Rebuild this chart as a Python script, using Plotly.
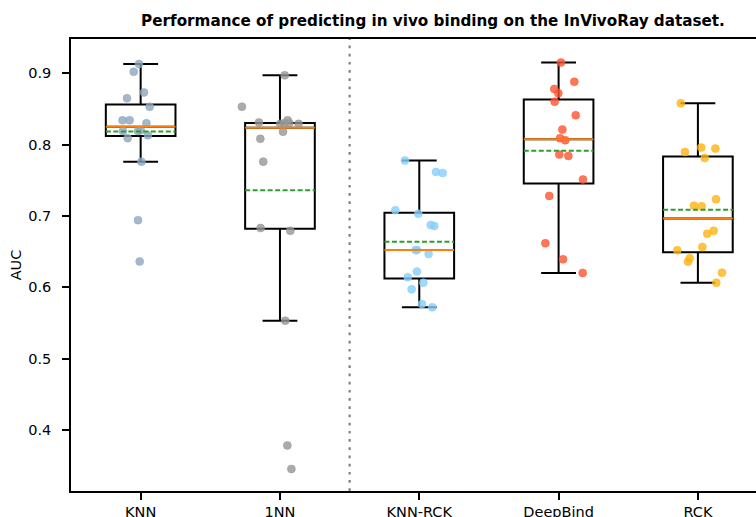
import numpy as np
import plotly.graph_objects as go

categories = ["KNN", "1NN", "KNN-RCK", "DeepBind", "RCK"]

knn_auc = [0.913, 0.902, 0.873, 0.865, 0.853, 0.834, 0.834, 0.830, 0.819, 0.819,
           0.820, 0.813, 0.809, 0.776, 0.694, 0.636]
knn_jitter = [-0.012, -0.05, 0.024, -0.098, 0.065, -0.13, -0.079, 0.041, -0.127, -0.019,
              0.0, 0.052, -0.093, 0.005, -0.019, -0.007]

nn1_auc = [0.897, 0.853, 0.831, 0.834, 0.829, 0.830, 0.829, 0.830, 0.818, 0.808,
           0.776, 0.683, 0.679, 0.553, 0.378, 0.345]
nn1_jitter = [0.034, -0.273, -0.151, 0.055, 0.002, 0.067, 0.134, 0.03, 0.022, -0.141,
              -0.12, -0.139, 0.074, 0.038, 0.053, 0.082]

knnrck_auc = [0.7775, 0.7616, 0.760, 0.708, 0.703, 0.6872, 0.6858, 0.652, 0.652, 0.6466,
              0.622, 0.614, 0.6063, 0.597, 0.5764, 0.5718]
knnrck_jitter = [-0.103, 0.12, 0.168, -0.172, -0.007, 0.082, 0.108, -0.026, -0.017, 0.067,
                 -0.017, -0.083, 0.029, -0.055, 0.019, 0.093]

deepbind_auc = [0.915, 0.888, 0.878, 0.872, 0.860, 0.841, 0.821, 0.809, 0.806, 0.786,
                0.784, 0.751, 0.728, 0.6616, 0.639, 0.620]
deepbind_jitter = [0.017, 0.113, -0.031, -0.002, -0.028, 0.123, 0.027, 0.01, 0.048, 0.005,
                   0.07, 0.175, -0.067, -0.095, 0.032, 0.173]

rck_auc = [0.858, 0.7957, 0.7943, 0.7896, 0.781, 0.7233, 0.7143, 0.7135, 0.679, 0.675,
           0.6564, 0.6518, 0.6405, 0.6358, 0.6204, 0.6063]
rck_jitter = [-0.123, 0.024, 0.125, -0.093, 0.049, 0.13, -0.028, 0.027, 0.113, 0.067,
              0.032, -0.148, -0.059, -0.071, 0.173, 0.132]

point_colors = ["rgba(140,168,190,0.8)", "rgba(150,150,150,0.8)", "rgba(135,206,250,0.8)",
                "rgba(255,85,50,0.8)", "rgba(255,180,20,0.8)"]

groups = [knn_auc, nn1_auc, knnrck_auc, deepbind_auc, rck_auc]
jitters = [knn_jitter, nn1_jitter, knnrck_jitter, deepbind_jitter, rck_jitter]
positions = list(range(len(categories)))
box_width = 0.5

fig = go.Figure()

# jittered points
for pos, vals, jit, col in zip(positions, groups, jitters, point_colors):
    fig.add_trace(go.Scatter(
        x=[pos + j for j in jit], y=vals, mode="markers",
        marker=dict(size=8, color=col, line=dict(width=0.6, color=col)),
        showlegend=False, hoverinfo="y"))

# box statistics (matplotlib style: linear percentiles, 1.5 IQR whiskers)
q1s, meds, q3s, los, his, means = [], [], [], [], [], []
for vals in groups:
    a = np.array(vals)
    q1, med, q3 = np.percentile(a, [25, 50, 75])
    iqr = q3 - q1
    lo = a[a >= q1 - 1.5 * iqr].min()
    hi = a[a <= q3 + 1.5 * iqr].max()
    q1s.append(q1); meds.append(med); q3s.append(q3)
    los.append(lo); his.append(hi); means.append(a.mean())

fig.add_trace(go.Box(
    x=positions, q1=q1s, median=meds, q3=q3s, lowerfence=los, upperfence=his,
    width=box_width, whiskerwidth=0.5, boxpoints=False,
    line=dict(color="black", width=2), fillcolor="rgba(0,0,0,0)",
    showlegend=False, hoverinfo="skip"))

# median (orange) and mean (green dashed) lines
mx, my, ax_, ay = [], [], [], []
for pos, med, mean in zip(positions, meds, means):
    mx += [pos - box_width / 2, pos + box_width / 2, None]
    my += [med, med, None]
    ax_ += [pos - box_width / 2, pos + box_width / 2, None]
    ay += [mean, mean, None]
fig.add_trace(go.Scatter(x=mx, y=my, mode="lines", line=dict(color="#ff7f0e", width=2),
                         showlegend=False, hoverinfo="skip"))
fig.add_trace(go.Scatter(x=ax_, y=ay, mode="lines",
                         line=dict(color="#2ca02c", width=2, dash="5px,2.5px"),
                         showlegend=False, hoverinfo="skip"))

# separator
fig.add_shape(type="line", xref="x", yref="paper", x0=1.5, x1=1.5, y0=0, y1=1,
              line=dict(color="#808080", width=2.2, dash="2.7px,5.5px"))

font = "DejaVu Sans, Arial, sans-serif"
fig.update_layout(
    width=756, height=517,
    margin=dict(l=71, r=0, t=39, b=26, autoexpand=False),
    paper_bgcolor="white", plot_bgcolor="white",
    font=dict(family=font, size=14.5, color="black"),
    title=dict(text="<b>Performance of predicting in vivo binding on the InVivoRay dataset.</b>",
               x=433 / 756, xanchor="center", y=1 - 21 / 517, yanchor="middle",
               font=dict(family=font, size=15.2, color="black")),
    xaxis=dict(range=[-0.5, 4.417], tickvals=positions, ticktext=categories,
               showline=True, linecolor="black", linewidth=1.5, mirror=True,
               ticks="outside", ticklen=7, tickwidth=1.5, tickcolor="black",
               showgrid=False, zeroline=False, automargin=False,
               tickfont=dict(size=14.5)),
    yaxis=dict(range=[0.3142, 0.948], tickvals=[0.4, 0.5, 0.6, 0.7, 0.8, 0.9],
               ticktext=["0.4", "0.5", "0.6", "0.7", "0.8", "0.9"],
               showline=True, linecolor="black", linewidth=1.5,
               ticks="outside", ticklen=7, tickwidth=1.5, tickcolor="black",
               showgrid=False, zeroline=False, automargin=False,
               ticklabelstandoff=8,
               title=dict(text="AUC", standoff=3, font=dict(size=14.5)),
               tickfont=dict(size=14.5)),
)

fig.write_html("out.html")
